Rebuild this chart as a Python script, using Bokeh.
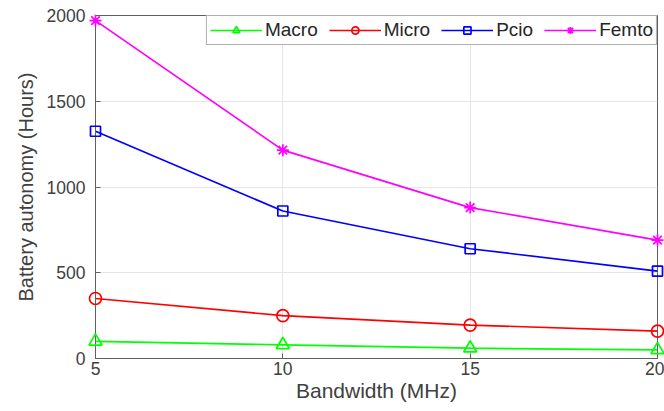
from bokeh.plotting import figure
from bokeh.embed import file_html
from bokeh.resources import INLINE
from bokeh.models import Range1d, FixedTicker, Legend, LegendItem

bandwidth = [5, 10, 15, 20]
macro = [100, 80, 60, 50]
micro = [350, 250, 195, 160]
pcio = [1325, 860, 640, 510]
femto = [1970, 1215, 880, 690]
x_ticks = [5, 10, 15, 20]
y_ticks = [0, 500, 1000, 1500, 2000]

p = figure(width=664, height=411, output_backend="svg", toolbar_location=None,
           x_range=Range1d(5, 20), y_range=Range1d(0, 2000),
           min_border_left=95, min_border_right=7, min_border_top=15, min_border_bottom=53)

font = "Liberation Sans"
txt = "#404040"
for ax in (p.xaxis[0], p.yaxis[0]):
    ax.major_label_text_font = font
    ax.major_label_text_font_size = "17.5px"
    ax.major_label_text_color = txt
    ax.axis_label_text_font = font
    ax.axis_label_text_font_style = "normal"
    ax.axis_label_text_color = txt
    ax.axis_line_color = "#606060"
    ax.major_tick_line_color = "#606060"
    ax.major_tick_in = 5
    ax.major_tick_out = 0
    ax.minor_tick_line_color = None

p.xaxis.ticker = FixedTicker(ticks=x_ticks)
p.yaxis.ticker = FixedTicker(ticks=y_ticks)
p.xaxis.axis_label = "Bandwidth (MHz)"
p.yaxis.axis_label = "Battery autonomy (Hours)"
p.xaxis.axis_label_text_font_size = "21px"
p.yaxis.axis_label_text_font_size = "20px"
p.xaxis.axis_label_standoff = 1
p.yaxis.axis_label_standoff = 7
p.xaxis.major_label_standoff = 3
p.yaxis.major_label_standoff = 10

p.xgrid.grid_line_color = "#e6e6e6"
p.ygrid.grid_line_color = "#e6e6e6"
p.outline_line_color = "#606060"
p.outline_line_width = 1

series = [
    ("Macro", macro, "#00ff00", "triangle", 13),
    ("Micro", micro, "#ff0000", "circle", 12),
    ("Pcio", pcio, "#0000ff", "square", 10),
    ("Femto", femto, "#ff00ff", "asterisk", 12),
]
items = []
for name, vals, color, marker, size in series:
    r1 = p.line(bandwidth, vals, line_color=color, line_width=1.7)
    r2 = p.scatter(bandwidth, vals, marker=marker, size=size, line_color=color,
                   fill_color=None, line_width=1.7)
    r2.level = "overlay"
    items.append(LegendItem(label=name, renderers=[r1, r2]))

legend = Legend(items=items, orientation="horizontal", location="top_right",
                label_text_font=font, label_text_font_size="19px", label_text_color="#262626",
                glyph_width=52, glyph_height=18, spacing=11, label_standoff=3,
                padding=3, margin=0, border_line_color="#606060",
                background_fill_alpha=1.0)
p.add_layout(legend, "center")

open("out.html", "w").write(file_html(p, INLINE))
